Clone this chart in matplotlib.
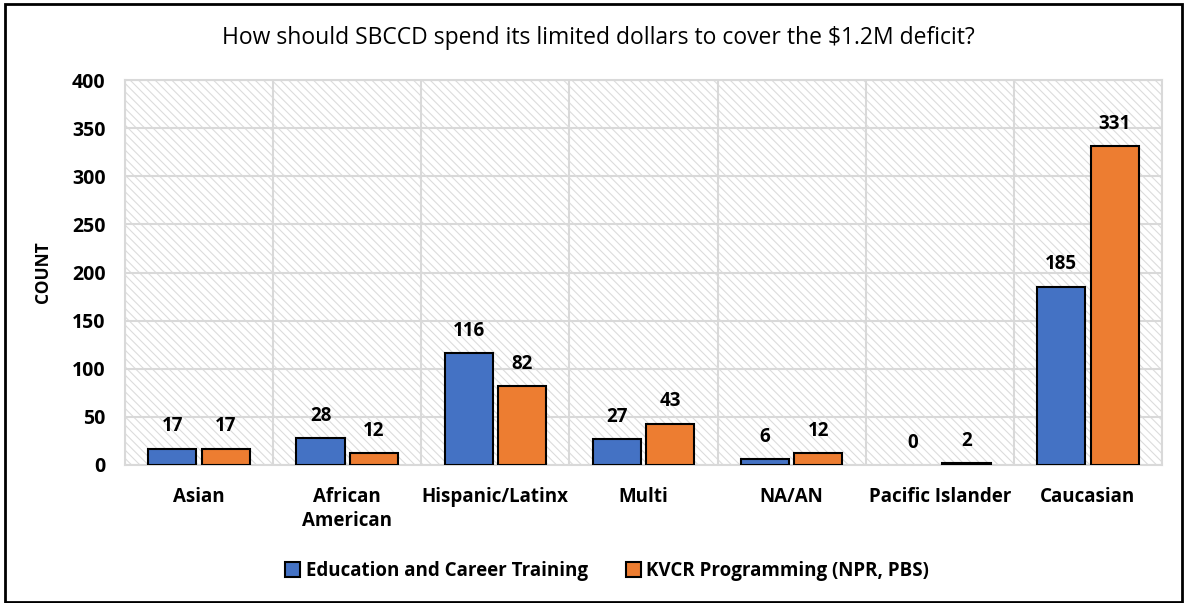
import numpy as np
import matplotlib
matplotlib.use("Agg")
from matplotlib import pyplot as plt
from matplotlib.patches import Rectangle

categories = ["Asian", "African\nAmerican", "Hispanic/Latinx", "Multi", "NA/AN", "Pacific Islander", "Caucasian"]
edu_counts = [17, 28, 116, 27, 6, 0, 185]
kvcr_counts = [17, 12, 82, 43, 12, 2, 331]
series_names = ["Education and Career Training", "KVCR Programming (NPR, PBS)"]
yticks = [0, 50, 100, 150, 200, 250, 300, 350, 400]

plt.rcParams["font.family"] = ["Open Sans", "DejaVu Sans"]
plt.rcParams["hatch.color"] = "#dcdcdc"
plt.rcParams["hatch.linewidth"] = 0.8

fig = plt.figure(figsize=(11.84, 6.03), dpi=100)
ax = fig.add_axes([125 / 1184, 1 - 465 / 603, 1037 / 1184, 385 / 603])

# hatched plot background
ax.add_patch(Rectangle((0, 0), 1, 1, transform=ax.transAxes, facecolor="white",
                       edgecolor="#dcdcdc", hatch="\\\\\\\\", lw=0, zorder=0))

x = np.arange(len(categories))
off = 0.18
w = 0.325
b1 = ax.bar(x - off, edu_counts, w, color="#4472C4", edgecolor="black", lw=1.5, zorder=3,
            label=series_names[0])
b2 = ax.bar(x + off, kvcr_counts, w, color="#ED7D31", edgecolor="black", lw=1.5, zorder=3,
            label=series_names[1])

for bars, vals in [(b1, edu_counts), (b2, kvcr_counts)]:
    for r, v in zip(bars, vals):
        if v == 0:
            r.set_linewidth(0)
        ax.annotate(str(v), (r.get_x() + r.get_width() / 2, v), xytext=(0, 9),
                    textcoords="offset points", ha="center", va="bottom",
                    fontsize=13.5, fontweight="bold")

ax.set_xlim(-0.5, len(categories) - 0.5)
ax.set_ylim(0, 400)
ax.set_yticks(yticks)
ax.set_yticklabels([str(t) for t in yticks], fontsize=14, fontweight="bold")
ax.set_xticks(x)
ax.set_xticklabels(categories, fontsize=13.5, fontweight="bold", va="top", linespacing=1.25)
ax.set_xticks(np.arange(len(categories) + 1) - 0.5, minor=True)
ax.tick_params(axis="x", which="both", length=0, pad=16)
ax.tick_params(axis="y", length=0, pad=14)
ax.grid(axis="y", color="#d9d9d9", lw=1.5, zorder=1)
ax.grid(axis="x", which="minor", color="#d9d9d9", lw=1.5, zorder=1)
ax.set_axisbelow(True)
for s in ax.spines.values():
    s.set_color("#d9d9d9")
    s.set_linewidth(1.5)

ax.set_ylabel("COUNT", fontsize=12.5, fontweight="bold", labelpad=14)
fig.text(598 / 1184, 1 - 38 / 603, "How should SBCCD spend its limited dollars to cover the $1.2M deficit?",
         ha="center", va="center", fontsize=16.5)

ax.legend(loc="center", bbox_to_anchor=(0.465, -0.275), ncol=2, frameon=False,
          prop={"size": 13.5, "weight": "bold"}, handlelength=0.8, handleheight=0.8,
          columnspacing=2.0, handletextpad=0.3)

# outer border
fig.add_artist(Rectangle((5 / 1184, 0.002), 1 - 7 / 1184, 1 - 5 / 603, transform=fig.transFigure,
                         fill=False, edgecolor="black", lw=2))

plt.savefig("out.png", dpi=100)
